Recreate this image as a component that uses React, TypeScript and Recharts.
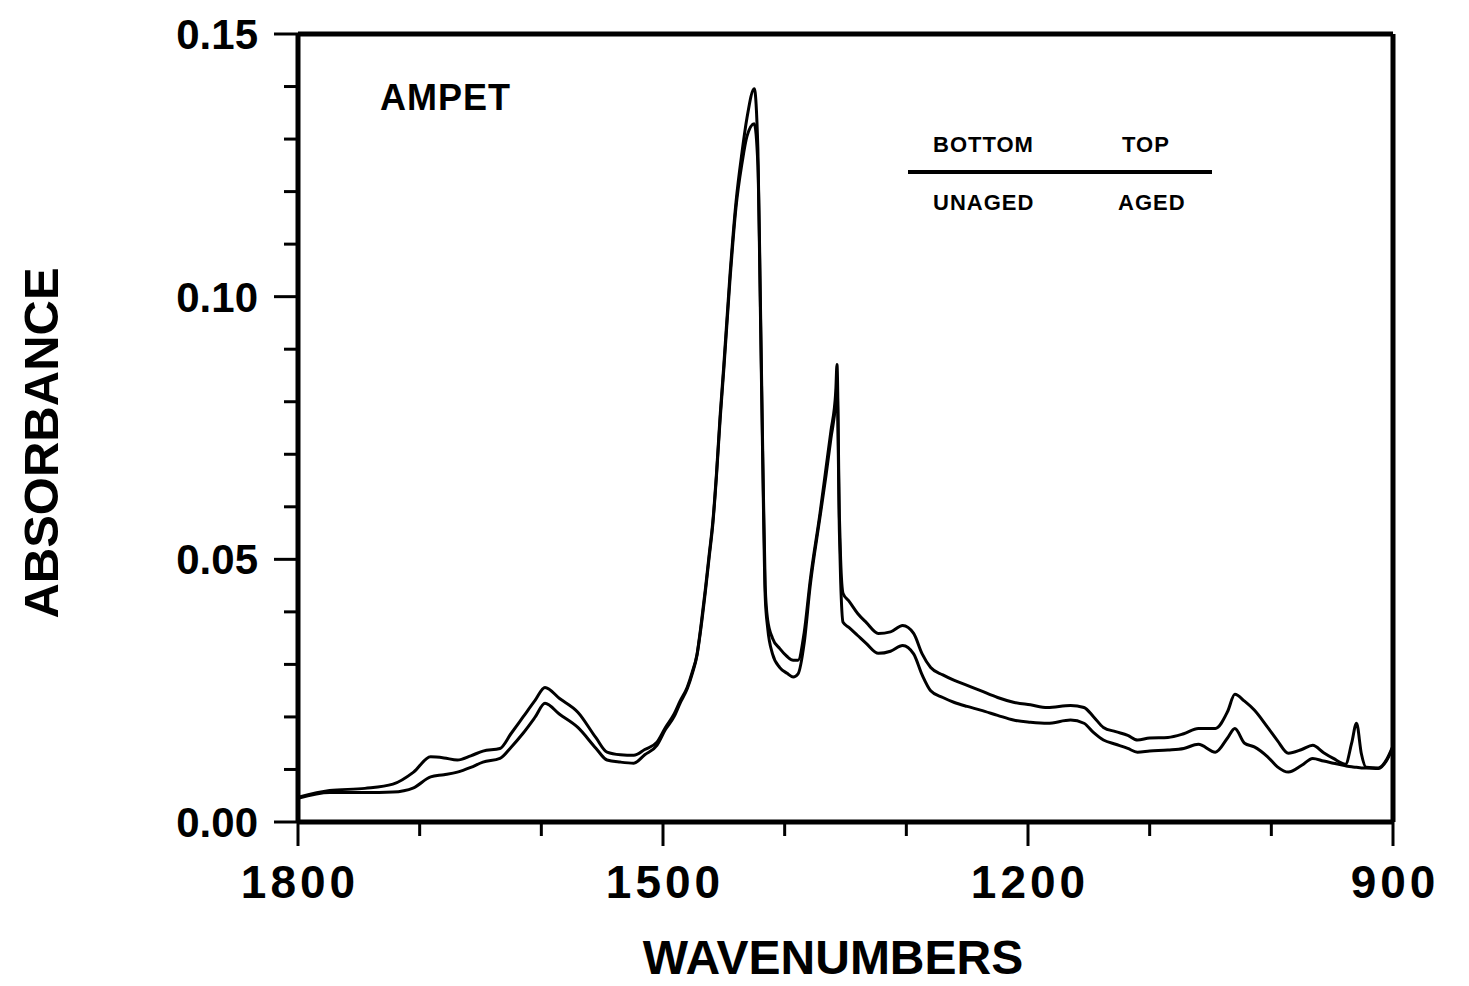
import React from 'react';
import { LineChart, Line, XAxis, YAxis, ReferenceLine } from 'recharts';

const wavenumbers = [
  1800, 1774, 1745, 1722, 1705, 1691, 1680, 1669, 1658, 1648, 1634, 1625, 1615, 1605, 1597, 1585, 1570, 1555, 1546, 1535,
  1524, 1515, 1505, 1498, 1491, 1486, 1480, 1476, 1472, 1469, 1465, 1462, 1459, 1456, 1453, 1450, 1445, 1440, 1435, 1431,
  1425, 1422, 1420, 1418, 1416, 1414, 1410, 1404, 1398, 1393, 1389, 1384, 1379, 1371, 1366, 1362, 1358, 1357, 1355, 1354,
  1352, 1347, 1340, 1333, 1323, 1313, 1303, 1294, 1287, 1280, 1270, 1261, 1250, 1239, 1225, 1212, 1198, 1184, 1165, 1154,
  1146, 1138, 1128, 1118, 1110, 1100, 1085, 1072, 1060, 1046, 1036, 1030, 1022, 1014, 1003, 995, 986, 975, 966, 957,
  949, 939, 934, 930, 926, 922, 912, 905, 900,
];

// TOP curve (aged)
const aged = [
  0.0047, 0.0060, 0.0064, 0.0072, 0.0095, 0.0124, 0.0122, 0.0118, 0.0126, 0.0135, 0.0140, 0.0168, 0.0200, 0.0232, 0.0256, 0.0235, 0.0209, 0.0160, 0.0133, 0.0128,
  0.0127, 0.0138, 0.0152, 0.0180, 0.0205, 0.0230, 0.0257, 0.0285, 0.0320, 0.0370, 0.0447, 0.0510, 0.0573, 0.0665, 0.0775, 0.0870, 0.1040, 0.1180, 0.1276, 0.1340,
  0.1396, 0.1280, 0.1000, 0.0700, 0.0450, 0.0385, 0.0350, 0.0330, 0.0315, 0.0308, 0.0308, 0.0360, 0.0460, 0.0587, 0.0674, 0.0744, 0.0820, 0.0871, 0.0580, 0.0500,
  0.0435, 0.0420, 0.0397, 0.0380, 0.0359, 0.0362, 0.0374, 0.0359, 0.0320, 0.0294, 0.0280, 0.0270, 0.0260, 0.0250, 0.0237, 0.0228, 0.0223, 0.0218, 0.0222, 0.0218,
  0.0200, 0.0180, 0.0172, 0.0165, 0.0156, 0.0160, 0.0161, 0.0168, 0.0178, 0.0178, 0.0210, 0.0243, 0.0230, 0.0213, 0.0180, 0.0155, 0.0131, 0.0138, 0.0146, 0.0132,
  0.0121, 0.0110, 0.0150, 0.0188, 0.0130, 0.0104, 0.0103, 0.0120, 0.0145,
];

// BOTTOM curve (unaged)
const unaged = [
  0.0045, 0.0056, 0.0056, 0.0057, 0.0065, 0.0086, 0.0090, 0.0095, 0.0104, 0.0114, 0.0121, 0.0142, 0.0169, 0.0200, 0.0226, 0.0205, 0.0180, 0.0140, 0.0118, 0.0114,
  0.0112, 0.0128, 0.0146, 0.0176, 0.0200, 0.0226, 0.0254, 0.0282, 0.0318, 0.0366, 0.0442, 0.0505, 0.0568, 0.0660, 0.0768, 0.0862, 0.1030, 0.1170, 0.1255, 0.1305,
  0.1329, 0.1250, 0.0980, 0.0680, 0.0430, 0.0370, 0.0320, 0.0294, 0.0283, 0.0276, 0.0282, 0.0340, 0.0450, 0.0580, 0.0660, 0.0730, 0.0800, 0.0835, 0.0550, 0.0460,
  0.0380, 0.0370, 0.0355, 0.0340, 0.0321, 0.0325, 0.0336, 0.0320, 0.0280, 0.0250, 0.0237, 0.0228, 0.0220, 0.0213, 0.0203, 0.0194, 0.0190, 0.0188, 0.0194, 0.0188,
  0.0170, 0.0156, 0.0148, 0.0140, 0.0133, 0.0135, 0.0137, 0.0140, 0.0148, 0.0133, 0.0160, 0.0178, 0.0150, 0.0143, 0.0124, 0.0105, 0.0095, 0.0108, 0.0121, 0.0116,
  0.0112, 0.0107, 0.0105, 0.0104, 0.0103, 0.0103, 0.0102, 0.0118, 0.0143,
];

const xTicks = [1800, 1700, 1600, 1500, 1400, 1300, 1200, 1100, 1000, 900];
const xLabelTicks = [1800, 1500, 1200, 900];
const yTicks = [0, 0.01, 0.02, 0.03, 0.04, 0.05, 0.06, 0.07, 0.08, 0.09, 0.1, 0.11, 0.12, 0.13, 0.14, 0.15];

const sampleName = 'AMPET';
const legendTop = ['BOTTOM', 'TOP'];
const legendBottom = ['UNAGED', 'AGED'];

const data = wavenumbers.map((w, i) => ({ w, aged: aged[i], unaged: unaged[i] }));

const FONT = '"Liberation Sans", Arial, Helvetica, sans-serif';

const YTick = (props: any) => {
  const { x, y, payload } = props;
  const v = payload.value as number;
  const major = Math.round(v * 100) % 5 === 0;
  return (
    <g>
      <line x1={x - (major ? 24 : 14)} x2={x} y1={y} y2={y} stroke="#000" strokeWidth={3} />
      {major && (
        <text x={x - 40} y={y + 15} textAnchor="end" fontFamily={FONT} fontWeight="bold" fontSize={42} fill="#000">
          {v.toFixed(2)}
        </text>
      )}
    </g>
  );
};

const XTick = (props: any) => {
  const { x, y, payload } = props;
  const v = payload.value as number;
  const major = xLabelTicks.includes(v);
  return (
    <g>
      <line x1={x} x2={x} y1={y} y2={y + (major ? 24 : 14)} stroke="#000" strokeWidth={3} />
      {major && (
        <text x={x + 2} y={y + 76} textAnchor="middle" fontFamily={FONT} fontWeight="bold" fontSize={46} letterSpacing={4} fill="#000">
          {String(v)}
        </text>
      )}
    </g>
  );
};

export default function App() {
  return (
    <div style={{ position: 'absolute', left: 0, top: 0, width: 1469, height: 986, background: '#fff', overflow: 'hidden' }}>
      <LineChart width={1469} height={986} data={data} margin={{ top: 34, right: 76, bottom: 84, left: 198 }}>
        <XAxis
          dataKey="w"
          type="number"
          domain={[900, 1800]}
          reversed
          ticks={xTicks}
          interval={0}
          height={80}
          tickSize={0}
          tickMargin={0}
          tickLine={false}
          axisLine={{ stroke: '#000', strokeWidth: 5 }}
          tick={<XTick />}
          allowDataOverflow
        />
        <YAxis
          type="number"
          domain={[0, 0.15]}
          ticks={yTicks}
          interval={0}
          width={100}
          tickSize={0}
          tickMargin={0}
          tickLine={false}
          axisLine={{ stroke: '#000', strokeWidth: 5 }}
          tick={<YTick />}
          allowDataOverflow
        />
        <ReferenceLine y={0.15} stroke="#000" strokeWidth={5} />
        <ReferenceLine x={900} stroke="#000" strokeWidth={5} />
        <Line dataKey="unaged" type="monotone" stroke="#000" strokeWidth={3} dot={false} isAnimationActive={false} />
        <Line dataKey="aged" type="monotone" stroke="#000" strokeWidth={3} dot={false} isAnimationActive={false} />
      </LineChart>
      <svg width={1469} height={986} style={{ position: 'absolute', left: 0, top: 0, pointerEvents: 'none' }}>
        <text x={380} y={110} fontFamily={FONT} fontWeight="bold" fontSize={36} letterSpacing={1} fill="#000">{sampleName}</text>
        <text x={933} y={152} fontFamily={FONT} fontWeight="bold" fontSize={22} letterSpacing={1} fill="#000">{legendTop[0]}</text>
        <text x={1122} y={152} fontFamily={FONT} fontWeight="bold" fontSize={22} letterSpacing={1} fill="#000">{legendTop[1]}</text>
        <line x1={908} x2={1212} y1={172} y2={172} stroke="#000" strokeWidth={4} />
        <text x={933} y={210} fontFamily={FONT} fontWeight="bold" fontSize={22} letterSpacing={1} fill="#000">{legendBottom[0]}</text>
        <text x={1118} y={210} fontFamily={FONT} fontWeight="bold" fontSize={22} letterSpacing={1} fill="#000">{legendBottom[1]}</text>
        <text
          x={0}
          y={0}
          transform="translate(58, 443) rotate(-90)"
          textAnchor="middle"
          fontFamily={FONT}
          fontWeight="bold"
          fontSize={49}
          fill="#000"
        >
          ABSORBANCE
        </text>
        <text x={833} y={974} textAnchor="middle" fontFamily={FONT} fontWeight="bold" fontSize={48} fill="#000">
          WAVENUMBERS
        </text>
      </svg>
    </div>
  );
}
